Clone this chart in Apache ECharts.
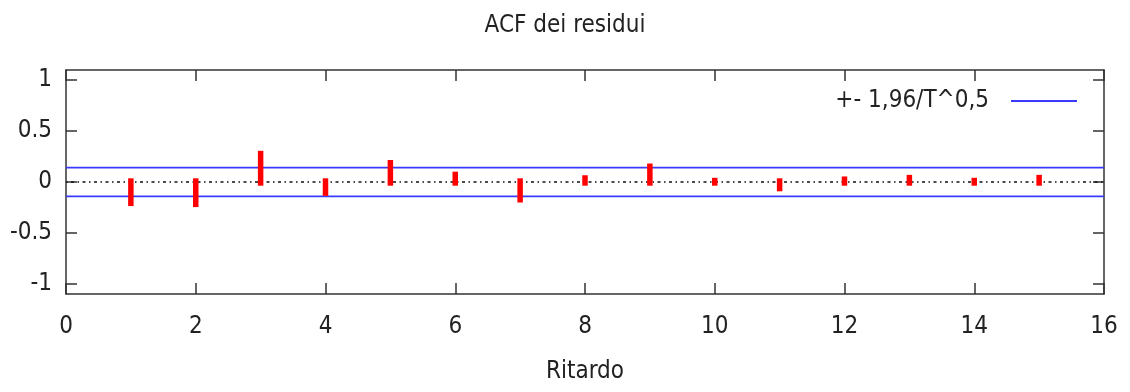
<!DOCTYPE html>
<html>
<head>
<meta charset="utf-8">
<script src="https://cdn.jsdelivr.net/npm/echarts@6/dist/echarts.min.js"></script>
<style>
html,body{margin:0;padding:0;background:#fff;}
#chart{width:1130px;height:392px;}
</style>
</head>
<body>
<div id="chart"></div>
<script>
const titleText = 'ACF dei residui';
const xAxisName = 'Ritardo';
const bandName = '+- 1,96/T^0,5';
const lags = [1, 2, 3, 4, 5, 6, 7, 8, 9, 10, 11, 12, 13, 14, 15];
const acf = [-0.20, -0.21, 0.27, -0.10, 0.18, 0.065, -0.165, 0.03, 0.145, 0.005, -0.055, 0.018, 0.034, 0.005, 0.034];
const band = 0.142;
const xRange = [0, 16];
const yTicks = [-1, -0.5, 0, 0.5, 1];
const yRange = [-1.1, 1.1];

const font = 'DejaVu Sans Condensed';
const txt = '#222';
const fs = 24;

const chart = echarts.init(document.getElementById('chart'), null, {renderer: 'canvas'});

const axisLineStyle = {color: '#333', width: 1.5};

chart.setOption({
  animation: false,
  backgroundColor: '#fff',
  title: {
    text: titleText, left: 'center', top: 9,
    textStyle: {fontFamily: font, fontSize: fs, fontWeight: 'normal', color: txt}
  },
  legend: {
    right: 48, top: 84, align: 'right', itemWidth: 66, itemHeight: 14, itemGap: 0,
    icon: 'path://M0,6 L66,6 L66,8 L0,8 Z',
    textStyle: {fontFamily: font, fontSize: fs, color: txt, padding: [0, 17, 0, 0]},
    data: [{name: bandName, itemStyle: {color: '#3a3aff'}}]
  },
  grid: {left: 66, right: 26, top: 70, bottom: 98},
  xAxis: [{
    type: 'value', min: xRange[0], max: xRange[1], interval: 2,
    position: 'bottom',
    name: xAxisName, nameLocation: 'middle', nameGap: 66,
    nameTextStyle: {fontFamily: font, fontSize: fs, color: txt},
    axisLine: {show: true, onZero: false, lineStyle: axisLineStyle},
    axisTick: {inside: true, length: 11, lineStyle: axisLineStyle},
    axisLabel: {fontFamily: font, fontSize: fs, color: txt, margin: 21},
    splitLine: {show: false}
  }, {
    type: 'value', min: xRange[0], max: xRange[1], interval: 2,
    position: 'top',
    axisLine: {show: true, onZero: false, lineStyle: axisLineStyle},
    axisTick: {inside: true, length: 11, lineStyle: axisLineStyle},
    axisLabel: {show: false},
    splitLine: {show: false}
  }],
  yAxis: [{
    type: 'value', min: yRange[0], max: yRange[1],
    position: 'left',
    axisLine: {show: true, onZero: false, lineStyle: axisLineStyle},
    axisTick: {inside: true, length: 11, lineStyle: axisLineStyle, customValues: yTicks},
    axisLabel: {fontFamily: font, fontSize: fs, color: txt, margin: 14, customValues: yTicks,
      formatter: v => String(v)},
    splitLine: {show: false}
  }, {
    type: 'value', min: yRange[0], max: yRange[1],
    position: 'right',
    axisLine: {show: true, onZero: false, lineStyle: axisLineStyle},
    axisTick: {inside: true, length: 11, lineStyle: axisLineStyle, customValues: yTicks},
    axisLabel: {show: false, customValues: yTicks},
    splitLine: {show: false}
  }],
  series: [
    {
      type: 'line', name: 'zero', xAxisIndex: 0, yAxisIndex: 0,
      data: [[xRange[0], 0], [xRange[1], 0]],
      symbol: 'none', silent: true,
      lineStyle: {color: '#111', width: 1.3, type: [1.5, 3.5, 3, 3.5]}
    },
    {
      type: 'line', name: bandName, xAxisIndex: 0, yAxisIndex: 0,
      data: [[xRange[0], band], [xRange[1], band]],
      symbol: 'none', lineStyle: {color: '#3a3aff', width: 1.8}, itemStyle: {color: '#3a3aff'}
    },
    {
      type: 'line', name: bandName, xAxisIndex: 0, yAxisIndex: 0,
      data: [[xRange[0], -band], [xRange[1], -band]],
      symbol: 'none', lineStyle: {color: '#3a3aff', width: 1.8}, itemStyle: {color: '#3a3aff'}
    },
    {
      type: 'custom', name: 'acf', xAxisIndex: 0, yAxisIndex: 0,
      data: lags.map((l, i) => [l, acf[i]]),
      renderItem: function (params, api) {
        const p = api.coord([api.value(0), api.value(1)]);
        const z = api.coord([api.value(0), 0]);
        const cap = 3.7;
        const top = Math.min(p[1], z[1]) - cap;
        const bot = Math.max(p[1], z[1]) + cap;
        const w = 5.5;
        return {
          type: 'rect',
          shape: {x: p[0] - w / 2, y: top, width: w, height: bot - top},
          style: {fill: '#ff0000'}
        };
      },
      z: 5
    }
  ]
});
</script>
</body>
</html>
